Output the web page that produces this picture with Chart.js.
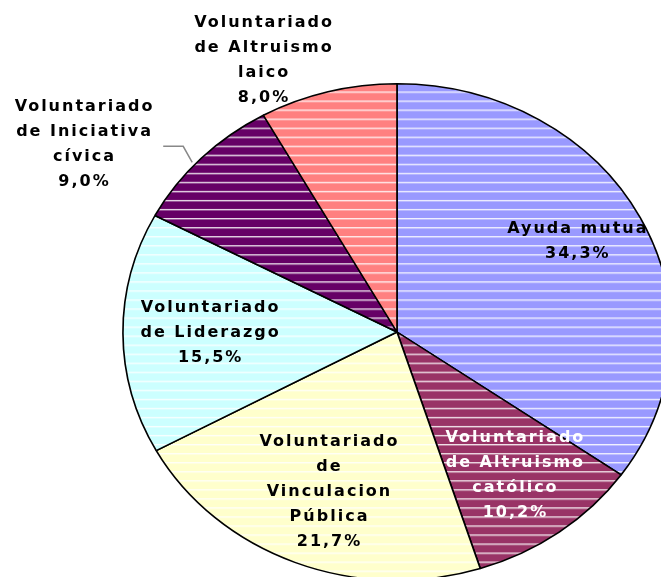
<!DOCTYPE html>
<html>
<head>
<meta charset="utf-8">
<script src="https://cdn.jsdelivr.net/npm/chart.js@4.4.1/dist/chart.umd.min.js"></script>
<style>
  html, body { margin: 0; padding: 0; background: #fff; overflow: hidden; }
  #wrap { width: 661px; height: 577px; overflow: hidden; }
</style>
</head>
<body>
<div id="wrap"><canvas id="pie" width="661" height="600"></canvas></div>
<script>
// slices, clockwise from 12 o'clock
const categories = [
  'Ayuda mutua',
  'Voluntariado de Altruismo católico',
  'Voluntariado de Vinculacion Pública',
  'Voluntariado de Liderazgo',
  'Voluntariado de Iniciativa cívica',
  'Voluntariado de Altruismo laico',
];
const labelLines = [
  ['Ayuda mutua'],
  ['Voluntariado', 'de Altruismo', 'católico'],
  ['Voluntariado', 'de', 'Vinculacion', 'Pública'],
  ['Voluntariado', 'de Liderazgo'],
  ['Voluntariado', 'de Iniciativa', 'cívica'],
  ['Voluntariado', 'de Altruismo', 'laico'],
];
const values = [34.3, 10.2, 21.7, 15.5, 9.0, 8.0];

const colors = ['#9999FF', '#993366', '#FFFFCC', '#CCFFFF', '#660066', '#FF8080'];
const textColors = ['#000', '#fff', '#000', '#000', '#000', '#000'];
// label placement: fraction of radius along the slice middle, then a nudge
const labelRadius = [0.76, 0.73, 0.69, 0.68, 1.08, 1.1];
const labelNudge = [[-4, -4], [0, -3], [3, 1], [0, 0], [-101, 0], [-57, -7]];

const STRETCH_X = 1.104; // the original pie is a bit wider than tall
const LINE_H = 25;

// the scanned original has thin white horizontal streaks over the fills
function striped(color) {
  const tile = document.createElement('canvas');
  tile.width = 8;
  tile.height = 9;
  const t = tile.getContext('2d');
  t.fillStyle = color;
  t.fillRect(0, 0, 8, 9);
  t.fillStyle = 'rgba(255,255,255,0.85)';
  t.fillRect(0, 1, 8, 1);
  t.fillStyle = 'rgba(255,255,255,0.35)';
  t.fillRect(0, 2, 8, 1);
  const pat = t.createPattern(tile, 'repeat');
  pat.setTransform(new DOMMatrix().scale(1, 9.04 / 9));
  return pat;
}

function arcPoint(arc, f) {
  const mid = (arc.startAngle + arc.endAngle) / 2;
  const r = arc.outerRadius * f;
  return {
    x: arc.x + STRETCH_X * r * Math.cos(mid),
    y: arc.y + r * Math.sin(mid),
  };
}

const stretchPlugin = {
  id: 'stretch',
  beforeDatasetsDraw(chart) {
    const arc = chart.getDatasetMeta(0).data[0];
    const ctx = chart.ctx;
    ctx.save();
    ctx.translate(arc.x, arc.y);
    ctx.scale(STRETCH_X, 1);
    ctx.translate(-arc.x, -arc.y);
  },
  afterDatasetsDraw(chart) {
    chart.ctx.restore();
  },
};

const labelPlugin = {
  id: 'sliceLabels',
  afterDraw(chart) {
    const ctx = chart.ctx;
    const arcs = chart.getDatasetMeta(0).data;
    ctx.save();
    ctx.font = 'bold 16px "DejaVu Sans"';
    ctx.letterSpacing = '2px';
    ctx.textAlign = 'center';
    ctx.textBaseline = 'middle';
    arcs.forEach((arc, i) => {
      const p = arcPoint(arc, labelRadius[i]);
      const x = p.x + labelNudge[i][0];
      const y = p.y + labelNudge[i][1];
      const lines = labelLines[i].concat(values[i].toFixed(1).replace('.', ',') + '%');
      const top = y - (lines.length - 1) * LINE_H / 2;
      ctx.fillStyle = textColors[i];
      lines.forEach((t, k) => ctx.fillText(t, x, top + k * LINE_H));

      // leader line for the label sitting outside the pie
      if (i === 4) {
        const edge = arcPoint(arc, 1.0);
        const ex = edge.x - 9, ey = edge.y + 4;
        ctx.save();
        ctx.strokeStyle = '#888';
        ctx.lineWidth = 1.5;
        ctx.beginPath();
        ctx.moveTo(ex - 29, ey - 16);
        ctx.lineTo(ex - 9, ey - 16);
        ctx.lineTo(ex, ey);
        ctx.stroke();
        ctx.restore();
      }
    });
    ctx.restore();
  },
};

new Chart(document.getElementById('pie').getContext('2d'), {
  type: 'pie',
  data: {
    labels: categories,
    datasets: [
      {
        data: values,
        backgroundColor: colors.map(striped),
        borderColor: '#000',
        borderWidth: 1.5,
        clip: false,
      },
    ],
  },
  options: {
    responsive: false,
    animation: false,
    devicePixelRatio: 1,
    layout: {
      padding: { top: 83, bottom: 19, left: 148, right: 15 },
    },
    plugins: {
      legend: { display: false },
      tooltip: { enabled: false },
    },
  },
  plugins: [stretchPlugin, labelPlugin],
});
</script>
</body>
</html>
